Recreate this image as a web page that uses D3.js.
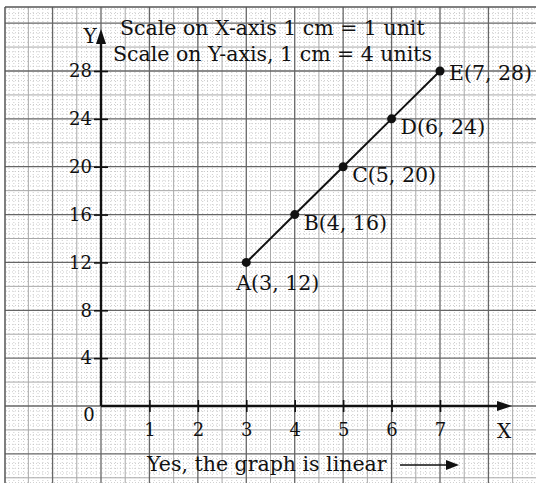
<!DOCTYPE html>
<html>
<head>
<meta charset="utf-8">
<script src="https://cdn.jsdelivr.net/npm/d3@7"></script>
<style>
  body { margin: 0; background: #fff; }
  text { font-family: "DejaVu Serif", "Liberation Serif", serif; fill: #111; }
</style>
</head>
<body>
<div id="chart"></div>
<script>
var svgWidth = 536;
var svgHeight = 483;

// data
var xTicks = [1, 2, 3, 4, 5, 6, 7];
var yTicks = [4, 8, 12, 16, 20, 24, 28];
var pointNames = ["A", "B", "C", "D", "E"];
var xValues = [3, 4, 5, 6, 7];
var yValues = [12, 16, 20, 24, 28];
var scaleLines = ["Scale on X-axis 1 cm = 1 unit", "Scale on Y-axis, 1 cm = 4 units"];
var footNote = "Yes, the graph is linear";

var points = pointNames.map(function(n, i) {
    return { name: n, x: xValues[i], y: yValues[i] };
});

// origin at (101, 406), 1 cm ~ 48.4px
var xScale = d3.scaleLinear().domain([0, 7]).range([101, 440]);
var yScale = d3.scaleLinear().domain([0, 28]).range([406, 71]);

var svg = d3.select("#chart")
    .append("svg")
    .attr("width", svgWidth)
    .attr("height", svgHeight);

svg.append("defs").append("clipPath")
    .attr("id", "paper")
    .append("rect")
    .attr("x", 5).attr("y", 7)
    .attr("width", svgWidth - 5).attr("height", svgHeight - 7);

var grid = svg.append("g").attr("clip-path", "url(#paper)");

// graph paper: minor dotted, half-cm medium, cm major (values x10)
var xMinor = d3.range(-20, 91);
var yMinor = d3.range(-72, 340, 4);

function kindX(k) {
    if (k % 10 === 0) return "major";
    if (k % 5 === 0) return "mid";
    return "minor";
}
function kindY(k) {
    if (k % 40 === 0) return "major";
    if (k % 20 === 0) return "mid";
    return "minor";
}
var gridStyle = {
    minor: { stroke: "#b8b8b8", width: 0.7, dash: "1,2" },
    mid: { stroke: "#a8a8a8", width: 1, dash: null },
    major: { stroke: "#666", width: 1.3, dash: null }
};

["minor", "mid", "major"].forEach(function(kind) {
    var st = gridStyle[kind];
    grid.selectAll(".v-" + kind)
        .data(xMinor.filter(function(k) { return kindX(k) === kind; }))
        .enter().append("line")
        .attr("x1", function(k) { return xScale(k / 10); })
        .attr("x2", function(k) { return xScale(k / 10); })
        .attr("y1", 0).attr("y2", svgHeight)
        .attr("stroke", st.stroke)
        .attr("stroke-width", st.width)
        .attr("stroke-dasharray", st.dash);
    grid.selectAll(".h-" + kind)
        .data(yMinor.filter(function(k) { return kindY(k) === kind; }))
        .enter().append("line")
        .attr("y1", function(k) { return yScale(k / 10); })
        .attr("y2", function(k) { return yScale(k / 10); })
        .attr("x1", 0).attr("x2", svgWidth)
        .attr("stroke", st.stroke)
        .attr("stroke-width", st.width)
        .attr("stroke-dasharray", st.dash);
});

// paper edge
svg.append("line").attr("x1", 5).attr("x2", svgWidth).attr("y1", 7).attr("y2", 7)
    .attr("stroke", "#555").attr("stroke-width", 1.5);
svg.append("line").attr("x1", 5).attr("x2", 5).attr("y1", 7).attr("y2", svgHeight)
    .attr("stroke", "#555").attr("stroke-width", 1.5);

// axes
var xAxis = d3.axisBottom(xScale).tickValues(xTicks).tickFormat(d3.format("d"))
    .tickSize(0).tickPadding(17);
var yAxis = d3.axisLeft(yScale).tickValues(yTicks).tickFormat(d3.format("d"))
    .tickSize(0).tickPadding(9);

var gx = svg.append("g").attr("transform", "translate(0," + yScale(0) + ")").call(xAxis);
var gy = svg.append("g").attr("transform", "translate(" + xScale(0) + ",0)").call(yAxis);

[gx, gy].forEach(function(g) {
    g.select(".domain").remove();
    g.selectAll(".tick text")
        .attr("font-family", "DejaVu Serif")
        .attr("font-size", 18)
        .attr("fill", "#111");
});
gx.selectAll(".tick line").attr("y1", -6).attr("y2", 6).attr("stroke", "#111").attr("stroke-width", 1.6);
gy.selectAll(".tick line").attr("x1", -7).attr("x2", 7).attr("stroke", "#111").attr("stroke-width", 1.6);

// axis lines with arrows
svg.append("line")
    .attr("x1", xScale(0)).attr("x2", 504)
    .attr("y1", yScale(0)).attr("y2", yScale(0))
    .attr("stroke", "#111").attr("stroke-width", 2.4);
svg.append("path")
    .attr("d", "M512," + yScale(0) + " L497," + (yScale(0) - 5) + " L497," + (yScale(0) + 5) + "Z")
    .attr("fill", "#111");
svg.append("line")
    .attr("x1", xScale(0)).attr("x2", xScale(0))
    .attr("y1", yScale(0)).attr("y2", 38)
    .attr("stroke", "#111").attr("stroke-width", 2.4);
svg.append("path")
    .attr("d", "M" + xScale(0) + ",29 L" + (xScale(0) - 5) + ",44 L" + (xScale(0) + 5) + ",44Z")
    .attr("fill", "#111");

svg.append("text").attr("x", 89).attr("y", 421).attr("text-anchor", "middle")
    .attr("font-size", 18).text("0");
svg.append("text").attr("x", 504).attr("y", 438).attr("text-anchor", "middle")
    .attr("font-size", 20).text("X");
svg.append("text").attr("x", 90).attr("y", 43).attr("text-anchor", "middle")
    .attr("font-size", 20).text("Y");

// scale note
svg.selectAll(".scale")
    .data(scaleLines)
    .enter().append("text")
    .attr("x", function(d, i) { return i === 0 ? 120 : 113; })
    .attr("y", function(d, i) { return 35 + i * 26; })
    .attr("font-size", 20.5)
    .text(function(d) { return d; });

// line through points
var line = d3.line()
    .x(function(d) { return xScale(d.x); })
    .y(function(d) { return yScale(d.y); });

svg.append("path")
    .datum(points)
    .attr("d", line)
    .attr("fill", "none")
    .attr("stroke", "#111")
    .attr("stroke-width", 2);

svg.selectAll(".pt")
    .data(points)
    .enter().append("circle")
    .attr("cx", function(d) { return xScale(d.x); })
    .attr("cy", function(d) { return yScale(d.y); })
    .attr("r", 4.5)
    .attr("fill", "#111");

svg.selectAll(".lbl")
    .data(points)
    .enter().append("text")
    .attr("x", function(d, i) { return xScale(d.x) + (i === 0 ? -10 : 9); })
    .attr("y", function(d, i) { return yScale(d.y) + (i === 0 ? 28 : i === 4 ? 9 : 15); })
    .attr("font-size", 20.5)
    .text(function(d) { return d.name + "(" + d.x + ", " + d.y + ")"; });

// footnote with arrow
svg.append("text")
    .attr("x", 147).attr("y", 471)
    .attr("font-size", 20.5)
    .text(footNote);
svg.append("line")
    .attr("x1", 400).attr("x2", 450).attr("y1", 465).attr("y2", 465)
    .attr("stroke", "#111").attr("stroke-width", 1.5);
svg.append("path")
    .attr("d", "M459,465 L446,460 L446,470Z")
    .attr("fill", "#111");
</script>
</body>
</html>
